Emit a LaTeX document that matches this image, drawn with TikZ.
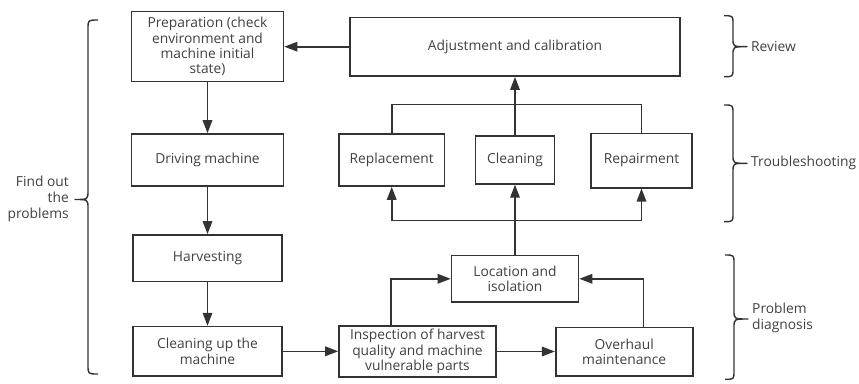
\documentclass[tikz,border=0pt]{standalone}
\usepackage{fontspec}
\setmainfont{Open Sans}
\usetikzlibrary{arrows.meta}
\definecolor{linec}{HTML}{333333}
\definecolor{textc}{HTML}{404040}
\begin{document}
\begin{tikzpicture}[x=1pt,y=-1pt,
  box/.style={draw=linec, line width=1.6pt, align=center, text=textc,
    inner sep=0pt, font=\fontsize{13.8}{15.3}\selectfont},
  link/.style={draw=linec, line width=1.6pt, -{Triangle[length=13pt,width=9.5pt]}},
  plain/.style={draw=linec, line width=1.6pt},
  bracket/.style={draw=linec, line width=1.4pt, line join=round},
  lab/.style={text=textc, inner sep=0pt, font=\fontsize{13.8}{16}\selectfont}]
\useasboundingbox (0,0) rectangle (859,383);

% left column: the harvesting run
\node[box, minimum width=152pt, minimum height=70pt] (prep) at (207.5,46.5)
  {Preparation (check\\environment and\\machine initial\\state)};
\node[box, minimum width=152pt, minimum height=52pt] (drive) at (207.5,160) {Driving machine};
\node[box, minimum width=149pt, minimum height=46.7pt] (harv) at (207.5,258.3) {Harvesting};
\node[box, minimum width=149pt, minimum height=49.3pt] (cleanup) at (207.5,351.3) {Cleaning up the\\machine};

% diagnosis row
\node[box, minimum width=157pt, minimum height=51pt] (insp) at (417.5,351.5)
  {Inspection of harvest\\quality and machine\\vulnerable parts};
\node[box, minimum width=127pt, minimum height=46.5pt] (loc) at (515,278.8) {Location and\\isolation};
\node[box, minimum width=137pt, minimum height=48.4pt] (overhaul) at (624.2,351.5) {Overhaul\\maintenance};

% troubleshooting row
\node[box, minimum width=105.3pt, minimum height=52pt] (repl) at (391.7,160) {Replacement};
\node[box, minimum width=79pt, minimum height=47.7pt] (clean) at (515,160) {Cleaning};
\node[box, minimum width=101pt, minimum height=54.4pt] (repair) at (641.5,160.5) {Repairment};

% review
\node[box, minimum width=330pt, minimum height=58.7pt] (adj) at (515,46.7) {Adjustment and calibration};

% junction points of the branching lines
\coordinate (busb) at (515,220.5);
\coordinate (bust) at (515,104.3);

% connectors
\draw[link] (adj.west) -- (adj.west -| prep.east);
\draw[link] (prep.south) -- (drive.north);
\draw[link] (drive.south) -- (harv.north);
\draw[link] (harv.south) -- (cleanup.north);
\draw[link] (cleanup.east) -- (cleanup.east -| insp.west);
\draw[link] (insp.east) -- (insp.east -| overhaul.west);
\draw[link] ([xshift=-26.8pt]insp.north) |- (loc.west);
\draw[link] ([xshift=19.3pt]overhaul.north) |- (loc.east);
\draw[plain] (loc.north) -- (busb);
\draw[link] (busb) -- (clean.south);
\draw[link] (busb) -| (repl.south);
\draw[link] (busb) -| (repair.south);
\draw[plain] (repl.north) |- (bust) -| (repair.north);
\draw[plain] (clean.north) -- (bust);
\draw[link] (bust) -- (adj.south);

% braces and stage labels
\draw[bracket] (98,20) .. controls (88,20) .. (88,29) -- (88,190.5)
  .. controls (88,199.5) .. (75,199.5) .. controls (88,199.5) .. (88,208.5)
  -- (88,365) .. controls (88,374) .. (98,374);
\node[lab, anchor=east, align=right] (find) at (69,199) {Find out\\the\\problems};

\draw[bracket] (724,15.7) .. controls (733,15.7) .. (733,24) -- (733,38.7)
  .. controls (733,46.7) .. (747,46.7) .. controls (733,46.7) .. (733,54.7)
  -- (733,68.7) .. controls (733,76.7) .. (724,76.7);
\node[lab, anchor=west] (review) at (751,46.7) {Review};

\draw[bracket] (724,105) .. controls (733,105) .. (733,113.5) -- (733,155)
  .. controls (733,163.3) .. (747,163.3) .. controls (733,163.3) .. (733,171.6)
  -- (733,213) .. controls (733,221.7) .. (724,221.7);
\node[lab, anchor=west] (trouble) at (751,163.3) {Troubleshooting};

\draw[bracket] (725,255) .. controls (734,255) .. (734,263.5) -- (734,310.7)
  .. controls (734,319) .. (748,319) .. controls (734,319) .. (734,327.3)
  -- (734,370.8) .. controls (734,379.3) .. (725,379.3);
\node[lab, anchor=west, align=left] (diag) at (752,318) {Problem\\diagnosis};
\end{tikzpicture}
\end{document}
